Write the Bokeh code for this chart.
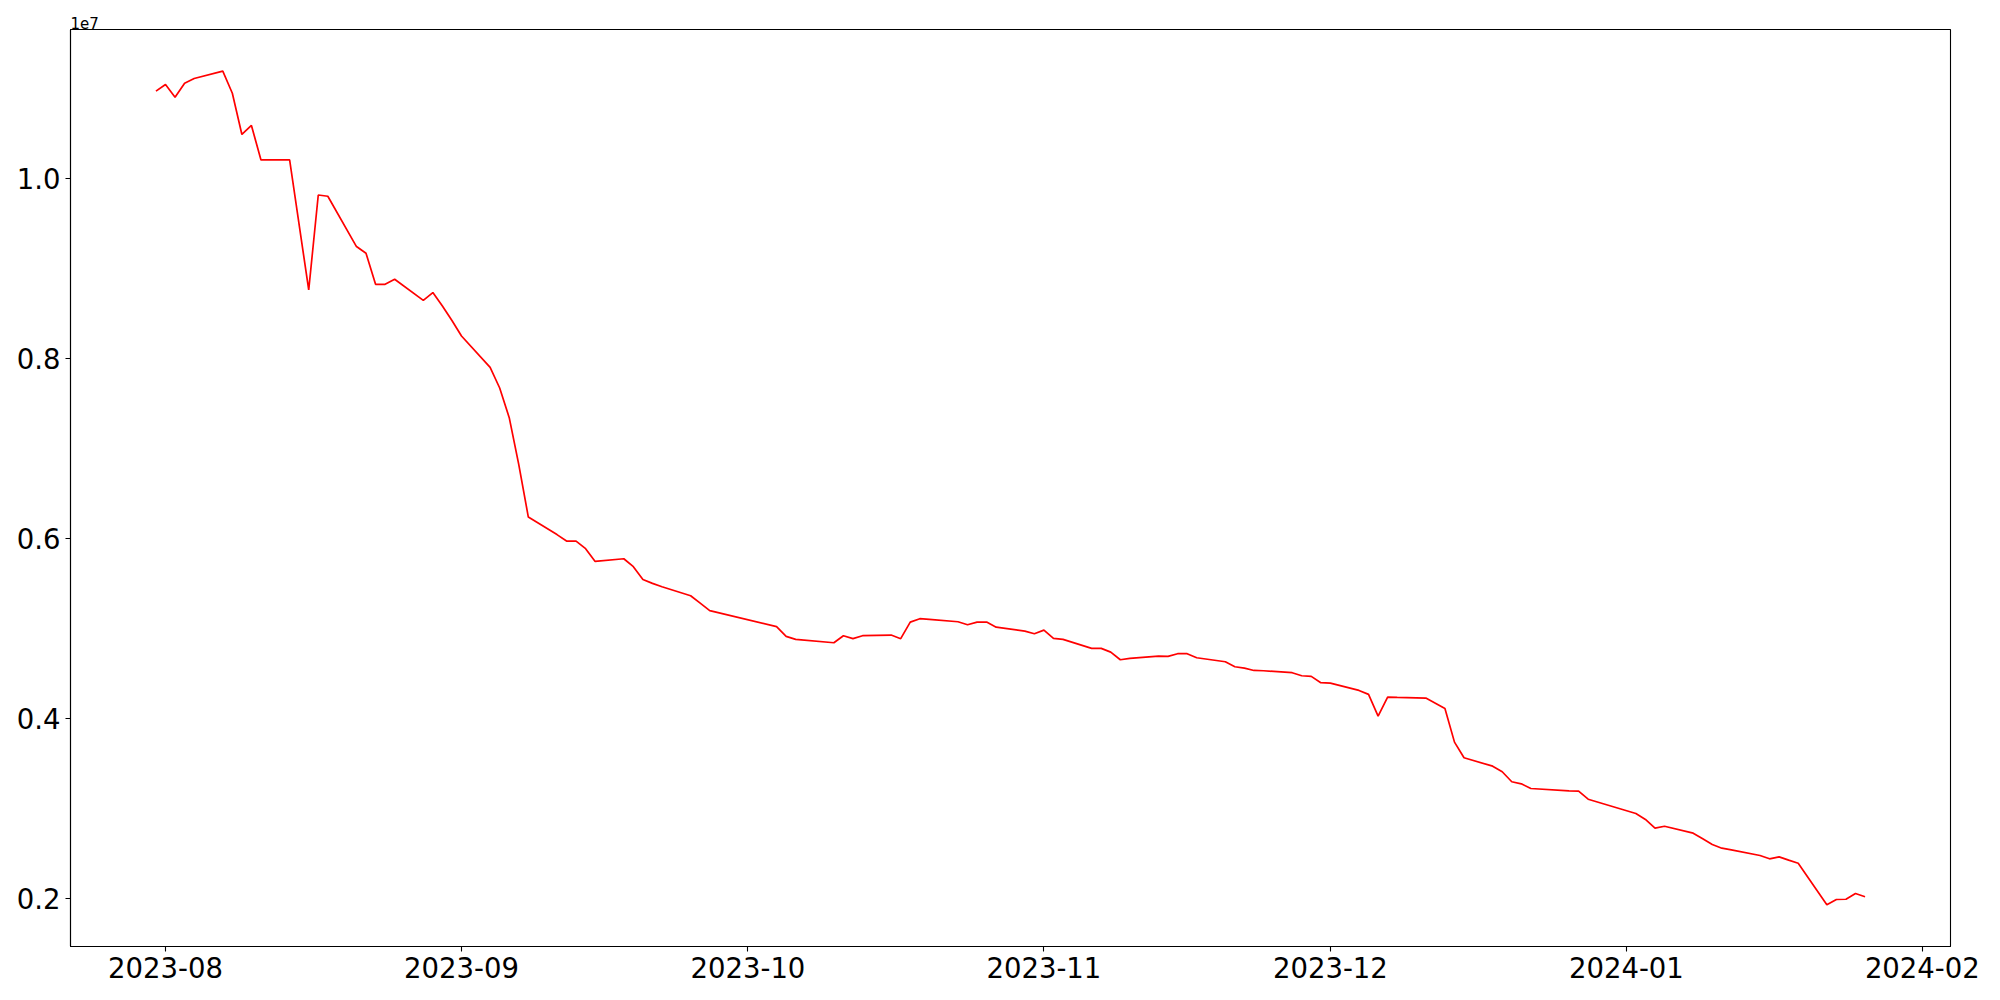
import pandas as pd
from bokeh.plotting import figure
from bokeh.models import (FixedTicker, CustomJSTickFormatter, DatetimeTickFormatter,
                          MonthsTicker, Range1d)
from bokeh.embed import file_html
from bokeh.resources import INLINE

dates = [
    "2023-07-31", "2023-08-01", "2023-08-02", "2023-08-03", "2023-08-04",
    "2023-08-07", "2023-08-08", "2023-08-09", "2023-08-10", "2023-08-11",
    "2023-08-14", "2023-08-16", "2023-08-17", "2023-08-18",
    "2023-08-21", "2023-08-22", "2023-08-23", "2023-08-24", "2023-08-25",
    "2023-08-28", "2023-08-29", "2023-08-30", "2023-08-31", "2023-09-01",
    "2023-09-04", "2023-09-05", "2023-09-06", "2023-09-07", "2023-09-08",
    "2023-09-11", "2023-09-12", "2023-09-13", "2023-09-14", "2023-09-15",
    "2023-09-18", "2023-09-19", "2023-09-20", "2023-09-21", "2023-09-22",
    "2023-09-25", "2023-09-26", "2023-09-27",
    "2023-10-04", "2023-10-05", "2023-10-06",
    "2023-10-10", "2023-10-11", "2023-10-12", "2023-10-13",
    "2023-10-16", "2023-10-17", "2023-10-18", "2023-10-19", "2023-10-20",
    "2023-10-23", "2023-10-24", "2023-10-25", "2023-10-26", "2023-10-27",
    "2023-10-30", "2023-10-31", "2023-11-01", "2023-11-02", "2023-11-03",
    "2023-11-06", "2023-11-07", "2023-11-08", "2023-11-09", "2023-11-10",
    "2023-11-13", "2023-11-14", "2023-11-15", "2023-11-16", "2023-11-17",
    "2023-11-20", "2023-11-21", "2023-11-22", "2023-11-23", "2023-11-24",
    "2023-11-27", "2023-11-28", "2023-11-29", "2023-11-30", "2023-12-01",
    "2023-12-04", "2023-12-05", "2023-12-06", "2023-12-07", "2023-12-08",
    "2023-12-11", "2023-12-12", "2023-12-13", "2023-12-14", "2023-12-15",
    "2023-12-18", "2023-12-19", "2023-12-20", "2023-12-21", "2023-12-22",
    "2023-12-26", "2023-12-27", "2023-12-28",
    "2024-01-02", "2024-01-03", "2024-01-04", "2024-01-05",
    "2024-01-08", "2024-01-09", "2024-01-10", "2024-01-11", "2024-01-12",
    "2024-01-15", "2024-01-16", "2024-01-17", "2024-01-18", "2024-01-19",
    "2024-01-22", "2024-01-23", "2024-01-24", "2024-01-25", "2024-01-26",
]

values = [
    10967000, 11041000, 10900000, 11056000, 11108000,
    11189000, 10944000, 10486000, 10586000, 10203000,
    10203000, 8759000, 9814000, 9800000,
    9241000, 9167000, 8822000, 8822000, 8878000,
    8644000, 8730000, 8580000, 8420000, 8248000,
    7900000, 7670000, 7341000, 6820000, 6237000,
    6042000, 5970000, 5970000, 5886000, 5744000,
    5774000, 5686000, 5544000, 5500000, 5463000,
    5363000, 5280000, 5197000,
    5019000, 4911000, 4878000,
    4841000, 4919000, 4886000, 4919000,
    4926000, 4886000, 5070000, 5108000, 5100000,
    5074000, 5041000, 5070000, 5070000, 5014000,
    4970000, 4941000, 4981000, 4889000, 4878000,
    4778000, 4778000, 4737000, 4652000, 4667000,
    4692000, 4689000, 4719000, 4719000, 4674000,
    4630000, 4574000, 4559000, 4533000, 4530000,
    4508000, 4474000, 4467000, 4397000, 4392000,
    4311000, 4267000, 4026000, 4237000, 4233000,
    4226000, 4170000, 4111000, 3737000, 3563000,
    3470000, 3408000, 3297000, 3274000, 3222000,
    3196000, 3192000, 3103000,
    2944000, 2878000, 2781000, 2803000,
    2726000, 2663000, 2600000, 2559000, 2541000,
    2478000, 2441000, 2463000, 2426000, 2392000,
    1930000, 1989000, 1992000, 2056000, 2019000,
]

y_ticks = [2000000, 4000000, 6000000, 8000000, 10000000]
offset_label = "1e7"

x = pd.to_datetime(dates)

xmin, xmax = x.min(), x.max()
xpad = (xmax - xmin) * 0.05
ymin, ymax = min(values), max(values)
ypad = (ymax - ymin) * 0.05

FONT = "DejaVu Sans"

p = figure(width=1984, height=992, x_axis_type="datetime",
           output_backend="svg", toolbar_location=None,
           x_range=Range1d(xmin - xpad, xmax + xpad),
           y_range=Range1d(ymin - ypad, ymax + ypad),
           min_border_left=70, min_border_right=34,
           min_border_top=29, min_border_bottom=46)

p.line(x, values, line_color="red", line_width=1.7)

p.title.text = offset_label
p.title.align = "left"
p.title.text_font = FONT
p.title.text_font_size = "15px"
p.title.text_font_style = "normal"
p.title.text_color = "black"
p.title.offset = 0
p.title.standoff = 2

p.xgrid.visible = False
p.ygrid.visible = False
p.outline_line_color = "black"
p.outline_line_width = 1.1
p.outline_line_alpha = 1.0

p.xaxis.ticker = MonthsTicker(months=list(range(12)))
fmt = "%Y-%m"
p.xaxis.formatter = DatetimeTickFormatter(years=fmt, months=fmt, days=fmt,
                                          hours=fmt, minutes=fmt)
p.yaxis.ticker = FixedTicker(ticks=y_ticks)
p.yaxis.formatter = CustomJSTickFormatter(code="return (tick/1e7).toFixed(1);")

for ax in (p.xaxis[0], p.yaxis[0]):
    ax.major_label_text_font = FONT
    ax.major_label_text_font_size = "27.5px"
    ax.major_label_text_color = "black"
    ax.axis_line_color = "black"
    ax.axis_line_width = 1.1
    ax.major_tick_line_color = "black"
    ax.major_tick_line_width = 1.1
    ax.major_tick_out = 5
    ax.major_tick_in = 0
    ax.minor_tick_out = 0
    ax.minor_tick_in = 0
    ax.major_label_standoff = 5

open("out.html", "w").write(file_html(p, INLINE))
